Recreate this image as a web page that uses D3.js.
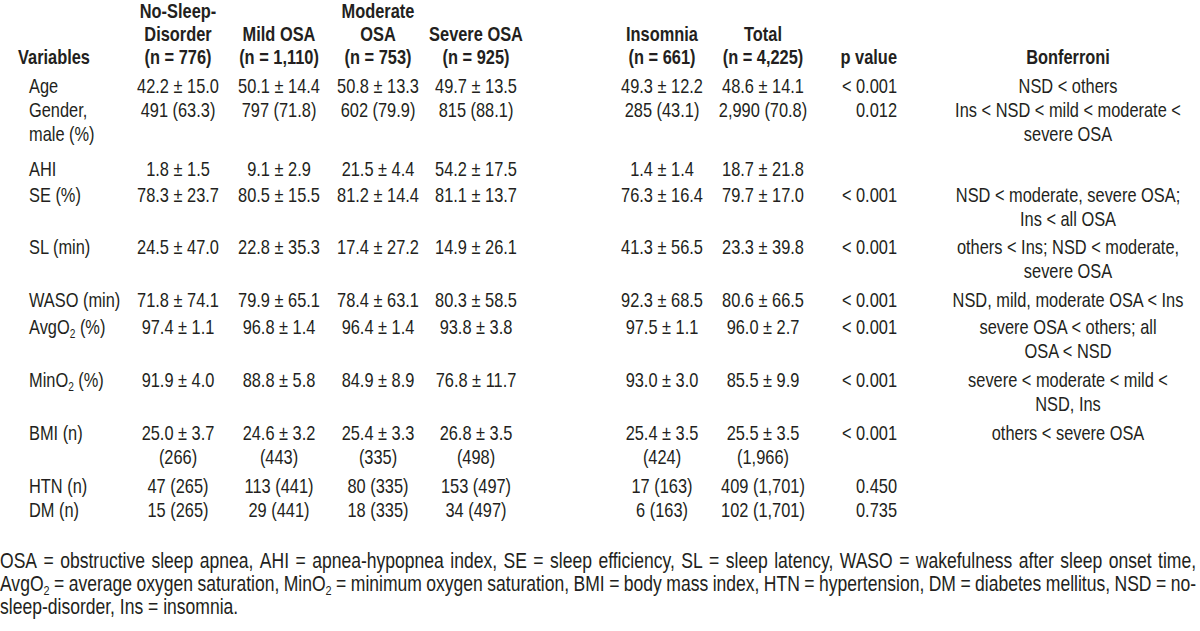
<!DOCTYPE html>
<html><head><meta charset="utf-8">
<script src="https://cdn.jsdelivr.net/npm/d3@7"></script>
<style>body{margin:0;background:#fff;overflow:hidden}</style>
</head><body>
<svg id="chart" width="1200" height="631"></svg>
<script>
// ---------------- DATA ----------------
const columns = ["NSD", "Mild", "Moderate", "Severe", "Insomnia", "Total"];
const columnHeaders = [
  ["No-Sleep-", "Disorder", "(n = 776)"],
  ["Mild OSA", "(n = 1,110)"],
  ["Moderate", "OSA", "(n = 753)"],
  ["Severe OSA", "(n = 925)"],
  ["Insomnia", "(n = 661)"],
  ["Total", "(n = 4,225)"]
];
const variableLabels = [
  ["Age"], ["Gender,", "male (%)"], ["AHI"], ["SE (%)"], ["SL (min)"], ["WASO (min)"],
  ["AvgO|2| (%)"], ["MinO|2| (%)"], ["BMI (n)"], ["HTN (n)"], ["DM (n)"]
];
const ageValues   = ["42.2 ± 15.0", "50.1 ± 14.4", "50.8 ± 13.3", "49.7 ± 13.5", "49.3 ± 12.2", "48.6 ± 14.1"];
const genderValues= ["491 (63.3)", "797 (71.8)", "602 (79.9)", "815 (88.1)", "285 (43.1)", "2,990 (70.8)"];
const ahiValues   = ["1.8 ± 1.5", "9.1 ± 2.9", "21.5 ± 4.4", "54.2 ± 17.5", "1.4 ± 1.4", "18.7 ± 21.8"];
const seValues    = ["78.3 ± 23.7", "80.5 ± 15.5", "81.2 ± 14.4", "81.1 ± 13.7", "76.3 ± 16.4", "79.7 ± 17.0"];
const slValues    = ["24.5 ± 47.0", "22.8 ± 35.3", "17.4 ± 27.2", "14.9 ± 26.1", "41.3 ± 56.5", "23.3 ± 39.8"];
const wasoValues  = ["71.8 ± 74.1", "79.9 ± 65.1", "78.4 ± 63.1", "80.3 ± 58.5", "92.3 ± 68.5", "80.6 ± 66.5"];
const avgO2Values = ["97.4 ± 1.1", "96.8 ± 1.4", "96.4 ± 1.4", "93.8 ± 3.8", "97.5 ± 1.1", "96.0 ± 2.7"];
const minO2Values = ["91.9 ± 4.0", "88.8 ± 5.8", "84.9 ± 8.9", "76.8 ± 11.7", "93.0 ± 3.0", "85.5 ± 9.9"];
const bmiValues   = ["25.0 ± 3.7", "24.6 ± 3.2", "25.4 ± 3.3", "26.8 ± 3.5", "25.4 ± 3.5", "25.5 ± 3.5"];
const bmiN        = ["(266)", "(443)", "(335)", "(498)", "(424)", "(1,966)"];
const htnValues   = ["47 (265)", "113 (441)", "80 (335)", "153 (497)", "17 (163)", "409 (1,701)"];
const dmValues    = ["15 (265)", "29 (441)", "18 (335)", "34 (497)", "6 (163)", "102 (1,701)"];
const pValues     = ["< 0.001", "0.012", "", "< 0.001", "< 0.001", "< 0.001", "< 0.001", "< 0.001", "< 0.001", "0.450", "0.735"];
const bonferroni  = [
  ["NSD < others"],
  ["Ins < NSD < mild < moderate <", "severe OSA"],
  [],
  ["NSD < moderate, severe OSA;", "Ins < all OSA"],
  ["others < Ins; NSD < moderate,", "severe OSA"],
  ["NSD, mild, moderate OSA < Ins"],
  ["severe OSA < others; all", "OSA < NSD"],
  ["severe < moderate < mild <", "NSD, Ins"],
  ["others < severe OSA"],
  [],
  []
];
const footnoteLines = [
  "OSA = obstructive sleep apnea, AHI = apnea-hypopnea index, SE = sleep efficiency, SL = sleep latency, WASO = wakefulness after sleep onset time,",
  "AvgO|2| = average oxygen saturation, MinO|2| = minimum oxygen saturation, BMI = body mass index, HTN = hypertension, DM = diabetes mellitus, NSD = no-",
  "sleep-disorder, Ins = insomnia."
];
const footnoteJustify = [true, true, false];
const rowValues = [
  [ageValues], [genderValues], [ahiValues], [seValues], [slValues], [wasoValues],
  [avgO2Values], [minO2Values], [bmiValues, bmiN], [htnValues], [dmValues]
];

// ---------------- LAYOUT ----------------
const fontSize = 20;
const footSize = 21.4;
const lineH = 23.5;
const headerBaselines = [18, 41, 63.5];
const rowBaselines = [93, 117, 176, 202, 254, 307, 334, 387, 440, 493, 517];
const footBaselines = [568, 591, 614];
const footRight = 1196;

const svg = d3.select("#chart");

function measure(fam) {
  const t = svg.append("text").attr("font-family", fam).attr("font-size", 20).text("abcdefghijklmnop 0123456789");
  const w = t.node().getComputedTextLength(); t.remove(); return w;
}
const hasNarrow = measure('"Liberation Sans Narrow", "DejaVu Sans Mono"') !== measure('"DejaVu Sans Mono"');
const family = hasNarrow ? '"Liberation Sans Narrow"' : '"Liberation Sans", Arial, sans-serif';
const sx = hasNarrow ? 1 : 0.82;

const x = d3.scaleOrdinal().domain(columns).range([178, 279, 378, 476, 662, 763]);
const yRow = d3.scaleOrdinal().domain(d3.range(variableLabels.length)).range(rowBaselines);
const pRight = 897, bonfCenter = 1068, labelX = 29, varX = 18;

function addText(g, px, py, str, anchor, bold, size) {
  const fs = size || fontSize;
  const t = g.append("text")
    .attr("transform", `translate(${px},${py}) scale(${sx},1)`)
    .attr("text-anchor", anchor)
    .attr("font-family", family)
    .attr("font-size", fs)
    .attr("font-weight", bold ? "bold" : "normal")
    .attr("fill", "#231f20");
  const parts = str.split("|");
  parts.forEach((p, i) => {
    if (p === "") return;
    if (i % 2 === 1) {
      t.append("tspan").attr("font-size", fs * 0.62).attr("dy", 4).text(p);
    } else {
      const ts = t.append("tspan").text(p);
      if (i > 0) ts.attr("dy", -4);
    }
  });
  return t;
}

const g = svg.append("g");

// header
addText(g, varX, headerBaselines[2], "Variables", "start", true);
columnHeaders.forEach((lines, ci) => {
  const start = 3 - lines.length;
  lines.forEach((ln, li) => addText(g, x(columns[ci]), headerBaselines[start + li], ln, "middle", true));
});
addText(g, pRight, headerBaselines[2], "p value", "end", true);
addText(g, bonfCenter, headerBaselines[2], "Bonferroni", "middle", true);

// rows
variableLabels.forEach((lines, ri) => {
  const y0 = yRow(ri);
  lines.forEach((ln, li) => addText(g, labelX, y0 + li * lineH, ln, "start", false));
  rowValues[ri].forEach((arr, li) => {
    arr.forEach((v, ci) => addText(g, x(columns[ci]), y0 + li * lineH, v, "middle", false));
  });
  if (pValues[ri]) addText(g, pRight, y0, pValues[ri], "end", false);
  bonferroni[ri].forEach((ln, li) => addText(g, bonfCenter, y0 + li * lineH, ln, "middle", false));
});

// footnote (justified lines)
footnoteLines.forEach((ln, i) => {
  const y0 = footBaselines[i];
  if (!footnoteJustify[i]) { addText(g, 0, y0, ln, "start", false, footSize); return; }
  const words = ln.split(" ");
  const nodes = words.map(w => addText(g, 0, y0, w, "start", false, footSize));
  const widths = nodes.map(n => n.node().getComputedTextLength() * sx);
  const gap = (footRight - d3.sum(widths)) / (words.length - 1);
  let cx = 0;
  nodes.forEach((n, k) => {
    n.attr("transform", `translate(${cx},${y0}) scale(${sx},1)`);
    cx += widths[k] + gap;
  });
});
</script>
</body></html>
